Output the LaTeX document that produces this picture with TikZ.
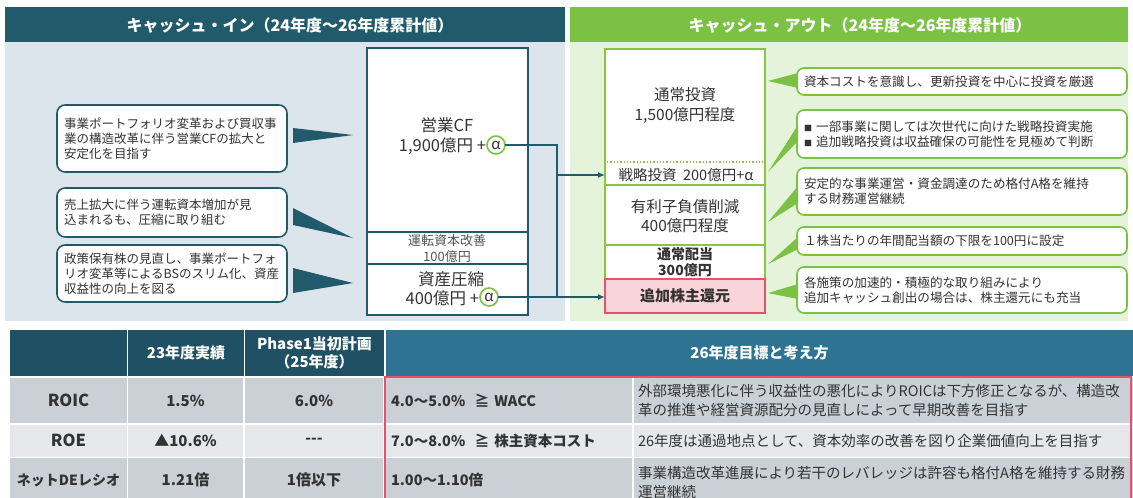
\documentclass[tikz,border=0pt]{standalone}
\usepackage{fontspec}
\setmainfont{Noto Sans CJK JP}
\usetikzlibrary{arrows.meta}
\definecolor{cteal}{HTML}{215A6B}
\definecolor{cgreen}{HTML}{7BC143}
\definecolor{lbg}{HTML}{DDE5EC}
\definecolor{rbg}{HTML}{E5F3DB}
\definecolor{gline}{HTML}{8CC63F}
\definecolor{cpink}{HTML}{E9506B}
\definecolor{pinkbg}{HTML}{F9D4DA}
\definecolor{hdark}{HTML}{1F5063}
\definecolor{hblue}{HTML}{2E7492}
\definecolor{rowg}{HTML}{CBD0D6}
\definecolor{rowl}{HTML}{E5E7EA}
\definecolor{txt}{HTML}{333333}
\definecolor{gtxt}{HTML}{555555}
\begin{document}
\begin{tikzpicture}[x=1pt,y=-1pt,
  every node/.style={inner sep=0pt,outer sep=0pt,text=txt},
  f/.style 2 args={font=\fontsize{#1}{#2}\selectfont},
  fb/.style 2 args={font=\fontsize{#1}{#2}\selectfont\bfseries},
  hdrtxt/.style={fb={16}{19},text=white},
  cbox/.style={draw=cteal,line width=1.5pt,fill=white,anchor=north west,minimum width=161pt},
  gbox/.style={draw=gline,line width=1.5pt,fill=white,anchor=north west,minimum width=160pt},
  pbox/.style={draw=cpink,line width=1.5pt,fill=pinkbg,anchor=north west,minimum width=160pt,fb={15}{18}},
  alph/.style={draw=cgreen,line width=1.6pt,circle,fill=white,minimum size=18pt,f={15}{16}},
  conn/.style={draw=cteal,line width=1.5pt},
  arr/.style={-{Latex[length=7pt,width=6pt]}},
  lcall/.style={draw=cteal,line width=1.6pt,rounded corners=8pt,fill=white,anchor=north west,
    minimum width=230pt,text width=216pt,inner xsep=7pt,align=left,f={12.5}{15}},
  rcall/.style={draw=cgreen,line width=1.6pt,rounded corners=7pt,fill=white,anchor=north west,
    minimum width=330pt,text width=316pt,inner xsep=7pt,align=left,f={12.6}{15}},
  th/.style={fill=hdark,anchor=north west,minimum height=46pt,text=white,fb={15}{18},align=center},
  td/.style={anchor=north west,fb={15}{18},align=center},
  tdl/.style={anchor=north west,fb={14.5}{18},align=left,inner xsep=5pt,text width=236pt},
  tdr/.style={anchor=north west,f={14.5}{19},align=left,inner xsep=4pt,text width=491pt}
]
\useasboundingbox (0,0) rectangle (1133,498);
\fill[white] (0,0) rectangle (1133,498);
% panels
\fill[cteal] (5,7) rectangle (565,42);
\fill[lbg] (5,42) rectangle (565,321);
\fill[cgreen] (570,7) rectangle (1128,42);
\fill[rbg] (570,42) rectangle (1128,321);
\node[hdrtxt] (hin) at (290,25) {キャッシュ・イン（24年度～26年度累計値）};
\node[hdrtxt] (hout) at (860,25) {キャッシュ・アウト（24年度～26年度累計値）};

% center column
\node[cbox,minimum height=184pt] (cf) at (367,48) {};
\node[cbox,minimum height=32pt] (wc) at (367,232) {};
\node[cbox,minimum height=51pt] (ac) at (367,264) {};
\node[f={16.5}{19}] (cft) at (447,125) {営業CF};
\node[f={16.5}{19},anchor=east] (cfv) at (486,146) {1,900億円 +};
\node[alph] (a1) at (496,145) {α};
\node[f={13}{15},text=gtxt] (wct) at (447,241) {運転資本改善};
\node[f={13}{15},text=gtxt] (wcv) at (447,257) {100億円};
\node[f={16.5}{19}] (act) at (451,279) {資産圧縮};
\node[f={16.5}{19},anchor=east] (acv) at (479,298) {400億円 +};
\node[alph] (a2) at (489,297) {α};

% right column
\node[gbox,minimum height=136pt] (inv) at (605,49) {};
\node[gbox,minimum height=60pt] (debt) at (605,185) {};
\node[gbox,minimum height=34pt] (div) at (605,245) {};
\node[pbox,minimum height=34pt] (add) at (605,279) {追加株主還元};
\coordinate (d1) at (607,162);
\coordinate (d2) at (763,162);
\draw[gline,line width=1.3pt,dotted] (d1) -- (d2);
\node[f={15.5}{19}] (invt) at (685,95) {通常投資};
\node[f={15.5}{19}] (invv) at (685,115) {1,500億円程度};
\node[f={14.5}{16}] (st) at (686,175) {戦略投資\ \ 200億円+α};
\node[f={15.5}{19}] (debtt) at (685,207) {有利子負債削減};
\node[f={15.5}{19}] (debtv) at (685,226) {400億円程度};
\node[fb={14}{17}] (divt) at (685,254) {通常配当};
\node[fb={14}{17}] (divv) at (685,270) {300億円};

% connectors
\coordinate (j1) at (557,145);
\coordinate (j2) at (557,297);
\coordinate (jm) at (557,175);
\draw[conn] (a1.east) -- (j1) -- (j2) -- (a2.east);
\draw[conn,arr] (jm) -- (jm -| inv.west);
\draw[conn,arr] (j2) -- (j2 -| add.west);

% left callouts
\node[lcall,minimum height=67pt] (l1) at (57,105) {事業ポートフォリオ変革および買収事\\業の構造改革に伴う営業CFの拡大と\\安定化を目指す};
\node[lcall,minimum height=49pt] (l2) at (57,188) {売上拡大に伴う運転資本増加が見\\込まれるも、圧縮に取り組む};
\node[lcall,minimum height=57pt] (l3) at (57,245) {政策保有株の見直し、事業ポートフォ\\リオ変革等によるBSのスリム化、資産\\収益性の向上を図る};
\fill[cteal] (293,128) -- (293,143) -- (353,135) -- cycle;
\fill[cteal] (293,208) -- (293,225) -- (353,238) -- cycle;
\fill[cteal] (293,268) -- (293,293) -- (353,283) -- cycle;

% right callouts
\node[rcall,minimum height=27pt] (r1) at (797,68) {資本コストを意識し、更新投資を中心に投資を厳選};
\node[rcall,minimum height=48pt] (r2) at (797,110) {{\fontsize{8}{8}\selectfont ■}\ 一部事業に関しては次世代に向けた戦略投資実施\\{\fontsize{8}{8}\selectfont ■}\ 追加戦略投資は収益確保の可能性を見極めて判断};
\node[rcall,minimum height=47pt] (r3) at (797,168) {安定的な事業運営・資金調達のため格付A格を維持\\する財務運営継続};
\node[rcall,minimum height=28pt] (r4) at (797,227) {１株当たりの年間配当額の下限を100円に設定};
\node[rcall,minimum height=46pt] (r5) at (797,267) {各施策の加速的・積極的な取り組みにより\\追加キャッシュ創出の場合は、株主還元にも充当};
\fill[cgreen] (798,73) -- (798,88) -- (768,81) -- cycle;
\fill[cgreen] (798,125) -- (798,141) -- (768,172) -- cycle;
\fill[cgreen] (798,186) -- (798,203) -- (768,222) -- cycle;
\fill[cgreen] (798,237) -- (798,249) -- (768,264) -- cycle;
\fill[cgreen] (798,284) -- (798,299) -- (768,293) -- cycle;

% table header
\node[th,minimum width=117pt] (h0) at (10,330) {};
\node[th,minimum width=116pt] (h1) at (128,330) {23年度実績};
\node[th,minimum width=139pt] (h2) at (245,330) {Phase1当初計画\\（25年度）};
\node[th,fill=hblue,minimum width=747pt] (h3) at (386,330) {26年度目標と考え方};

% row 1
\node[td,fill=rowg,minimum width=117pt,minimum height=45pt,fb={16.5}{19}] (c10) at (10,378) {ROIC};
\node[td,fill=rowg,minimum width=115pt,minimum height=45pt] (c11) at (128,378) {1.5\%};
\node[td,fill=rowg,minimum width=138pt,minimum height=45pt] (c12) at (245,378) {6.0\%};
\node[tdl,fill=rowg,minimum width=246pt,minimum height=45pt] (c13) at (386,378) {4.0～5.0\%\ \ ≧ WACC};
\node[tdr,fill=rowg,minimum width=499pt,minimum height=45pt] (c14) at (634,378) {外部環境悪化に伴う収益性の悪化によりROICは下方修正となるが、構造改\\革の推進や経営資源配分の見直しによって早期改善を目指す};
% row 2
\node[td,fill=rowl,minimum width=117pt,minimum height=32pt,fb={16.5}{19}] (c20) at (10,424.5) {ROE};
\node[td,fill=rowl,minimum width=115pt,minimum height=32pt] (c21) at (128,424.5) {▲10.6\%};
\node[td,fill=rowl,minimum width=138pt,minimum height=32pt] (c22) at (245,424.5) {-{}-{}-};
\node[tdl,fill=rowl,minimum width=246pt,minimum height=32pt] (c23) at (386,424.5) {7.0～8.0\%\ \ ≧ 株主資本コスト};
\node[tdr,fill=rowl,minimum width=499pt,minimum height=32pt] (c24) at (634,424.5) {26年度は通過地点として、資本効率の改善を図り企業価値向上を目指す};
% row 3
\node[td,fill=rowg,minimum width=117pt,minimum height=44pt,fb={14}{16}] (c30) at (10,458) {ネットDEレシオ};
\node[td,fill=rowg,minimum width=115pt,minimum height=44pt] (c31) at (128,458) {1.21倍};
\node[td,fill=rowg,minimum width=138pt,minimum height=44pt] (c32) at (245,458) {1倍以下};
\node[tdl,fill=rowg,minimum width=246pt,minimum height=44pt] (c33) at (386,458) {1.00～1.10倍};
\node[tdr,fill=rowg,minimum width=499pt,minimum height=48pt] (c34) at (634,458) {事業構造改革進展により若干のレバレッジは許容も格付A格を維持する財務\\運営継続};
% pink frame
\draw[cpink,line width=2pt] (385,502) -- (385,377) -- (1131,377) -- (1131,502);
\end{tikzpicture}
\end{document}
